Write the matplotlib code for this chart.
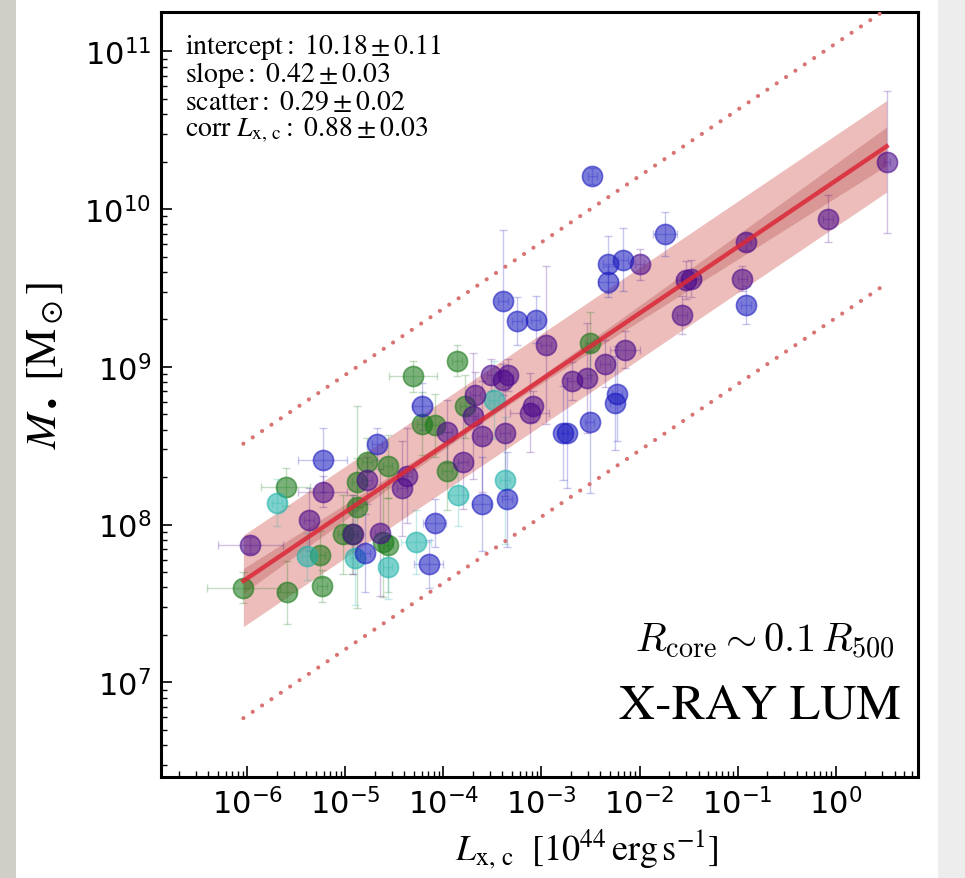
import numpy as np
import matplotlib
matplotlib.use('Agg')
import matplotlib.pyplot as plt
from matplotlib.patches import Rectangle

# log10 of core X-ray luminosity [1e44 erg/s] and black-hole mass [Msun], per sample
blue_lx = [-2.48, -1.74, -2.32, -2.17, -2.32, -0.91, -3.39, -3.25, -3.06, -2.23, -2.25,
           -2.51, -2.74, -2.78, -4.22, -4.68, -5.23, -3.61, -3.35, -4.09, -4.80, -4.15]
blue_lm = [10.21, 9.84, 9.65, 9.68, 9.54, 9.39, 9.42, 9.29, 9.30, 8.83, 8.77,
           8.65, 8.58, 8.58, 8.75, 8.51, 8.41, 8.13, 8.16, 8.01, 7.82, 7.75]
blue_xe = [0.05, 0.12, 0.05, 0.05, 0.10, 0.05, 0.05, 0.05, 0.05, 0.05, 0.05,
           0.05, 0.05, 0.05, 0.10, 0.05, 0.25, 0.10, 0.05, 0.12, 0.05, 0.15]
blue_me = [0.05, 0.14, 0.18, 0.20, 0.10, 0.12, 0.45, 0.15, 0.15, 0.30, 0.30,
           0.45, 0.35, 0.30, 0.15, 0.10, 0.20, 0.30, 0.30, 0.15, 0.25, 0.15]

purple_lx = [0.52, -0.08, -0.91, -0.95, -2.00, -1.47, -1.53, -1.57, -2.95, -2.15, -2.35,
             -2.69, -2.54, -3.51, -3.39, -3.34, -3.68, -3.70, -3.96, -3.61, -3.37, -3.12,
             -3.09, -3.80, -4.37, -4.42, -4.78, -5.23, -5.37, -4.92, -4.65, -5.97]
purple_lm = [10.30, 9.94, 9.79, 9.56, 9.65, 9.56, 9.55, 9.33, 9.14, 9.11, 9.02,
             8.91, 8.93, 8.95, 8.92, 8.95, 8.82, 8.69, 8.59, 8.56, 8.58, 8.71,
             8.75, 8.40, 8.31, 8.23, 8.28, 8.21, 8.03, 7.94, 7.95, 7.87]
purple_xe = [0.03, 0.05, 0.05, 0.05, 0.05, 0.10, 0.10, 0.05, 0.05, 0.15, 0.05,
             0.05, 0.05, 0.05, 0.10, 0.05, 0.05, 0.05, 0.05, 0.05, 0.05, 0.20,
             0.05, 0.05, 0.05, 0.05, 0.05, 0.25, 0.05, 0.05, 0.05, 0.33]
purple_me = [0.45, 0.15, 0.05, 0.08, 0.10, 0.12, 0.12, 0.12, 0.50, 0.12, 0.15,
             0.12, 0.35, 0.10, 0.10, 0.10, 0.15, 0.40, 0.20, 0.35, 0.40, 0.25,
             0.10, 0.30, 0.30, 0.30, 0.15, 0.10, 0.20, 0.25, 0.40, 0.05]

green_lx = [-3.86, -4.31, -2.51, -3.78, -4.22, -4.09, -3.96, -4.78, -4.57, -4.88,
            -4.88, -5.02, -4.93, -5.61, -6.04, -5.60, -5.24, -5.26, -4.62, -4.56]
green_lm = [9.04, 8.94, 9.15, 8.75, 8.64, 8.63, 8.34, 8.40, 8.37, 8.27,
            8.11, 7.94, 7.94, 8.24, 7.60, 7.57, 7.61, 7.81, 7.89, 7.87]
green_xe = [0.05, 0.24, 0.05, 0.05, 0.05, 0.05, 0.05, 0.05, 0.05, 0.05,
            0.05, 0.05, 0.05, 0.25, 0.37, 0.10, 0.05, 0.05, 0.05, 0.05]
green_me = [0.10, 0.10, 0.20, 0.20, 0.20, 0.20, 0.25, 0.15, 0.20, 0.15,
            0.64, 0.25, 0.25, 0.12, 0.10, 0.20, 0.10, 0.15, 0.35, 0.30]

cyan_lx = [-5.70, -3.37, -3.85, -4.28, -4.57, -4.90, -5.39, -3.48]
cyan_lm = [8.14, 8.28, 8.19, 7.89, 7.73, 7.79, 7.80, 8.79]
cyan_xe = [0.05, 0.05, 0.10, 0.15, 0.05, 0.05, 0.05, 0.05]
cyan_me = [0.15, 0.40, 0.20, 0.20, 0.20, 0.30, 0.15, 0.25]

# fit results
intercept, intercept_err = 10.18, 0.11
slope, slope_err = 0.42, 0.03
scatter, scatter_err = 0.29, 0.02
corr, corr_err = 0.88, 0.03
pivot = -3.5

plt.rcParams['font.family'] = 'DejaVu Sans'
plt.rcParams['mathtext.fontset'] = 'dejavusans'

fig = plt.figure(figsize=(9.65, 8.79), dpi=100)
fig.patch.set_facecolor('white')
# grey page edges around the panel
fig.patches.append(Rectangle((0, 0), 16 / 965, 1, transform=fig.transFigure,
                             facecolor='#cfcfc8', edgecolor='none', zorder=-5))
fig.patches.append(Rectangle((938 / 965, 0), 27 / 965, 1, transform=fig.transFigure,
                             facecolor='#ededed', edgecolor='none', zorder=-5))

ax = fig.add_axes([161 / 965, 101 / 879, 757 / 965, 765 / 879])
ax.set_xscale('log')
ax.set_yscale('log')


def draw_group(lx, lm, xe, me, color):
    lx = np.array(lx)
    lm = np.array(lm)
    xe = np.array(xe)
    me = np.array(me)
    x = 10 ** lx
    y = 10 ** lm
    xerr = [x - 10 ** (lx - xe), 10 ** (lx + xe) - x]
    yerr = [y - 10 ** (lm - me), 10 ** (lm + me) - y]
    ax.errorbar(x, y, xerr=xerr, yerr=yerr, fmt='none', ecolor=color,
                elinewidth=1.0, capsize=3, alpha=0.25, zorder=3)
    ax.plot(x, y, 'o', ms=14.5, mfc=color, mec=color, mew=1.2,
            alpha=0.58, zorder=4)


draw_group(green_lx, green_lm, green_xe, green_me, '#1a7a1a')
draw_group(cyan_lx, cyan_lm, cyan_xe, cyan_me, '#20b2aa')
draw_group(purple_lx, purple_lm, purple_xe, purple_me, '#4b0a8c')
draw_group(blue_lx, blue_lm, blue_xe, blue_me, '#1c1cc0')

# best-fit relation with intrinsic scatter band, fit uncertainty and 3-sigma lines
all_lx = np.concatenate([blue_lx, purple_lx, green_lx, cyan_lx])
lgrid = np.linspace(all_lx.min(), all_lx.max(), 200)
lfit = intercept + slope * lgrid
fit_hw = np.sqrt(0.02 ** 2 + (slope_err * (lgrid - pivot)) ** 2)
xg = 10 ** lgrid
ax.fill_between(xg, 10 ** (lfit - scatter), 10 ** (lfit + scatter),
                color='#d2625c', alpha=0.42, lw=0, zorder=2)
ax.fill_between(xg, 10 ** (lfit - fit_hw), 10 ** (lfit + fit_hw),
                color='#b04040', alpha=0.3, lw=0, zorder=2)
ax.plot(xg, 10 ** lfit, color='#dc2838', lw=3.2, alpha=0.85, zorder=6)
for sgn in (1, -1):
    ax.plot(xg, 10 ** (lfit + sgn * 3 * scatter), color='#d87474', lw=3.0,
            ls=(0, (0.01, 2.7)), dash_capstyle='round', zorder=5)

ax.set_xlim(10 ** -6.88, 10 ** 0.84)
ax.set_ylim(10 ** 6.4, 10 ** 11.25)

ax.tick_params(which='both', direction='in', top=False, right=False)
ax.tick_params(which='major', length=8, width=1.2, labelsize=22, pad=7)
ax.tick_params(which='minor', length=4, width=1.0)
ax.xaxis.set_major_locator(matplotlib.ticker.LogLocator(base=10, numticks=20))
ax.xaxis.set_minor_locator(matplotlib.ticker.LogLocator(base=10, subs=np.arange(2, 10), numticks=20))
ax.xaxis.set_minor_formatter(matplotlib.ticker.NullFormatter())
ax.set_xticks([10.0 ** k for k in range(-6, 1)])
for sp in ax.spines.values():
    sp.set_linewidth(2.2)

ax.set_xlabel(r'$L_{\rm x,\,c}\ \ [10^{44}\,{\rm erg\,s^{-1}}]$', fontsize=26,
              math_fontfamily='stix')
ax.xaxis.set_label_coords(0.563, -0.064)
ax.set_ylabel(r'$M_\bullet\ [{\rm M}_\odot]$', fontsize=31, math_fontfamily='stix')
ax.yaxis.set_label_coords(-0.125, 0.54)

stats = [
    r'$\mathrm{intercept}:\ %.2f \pm %.2f$' % (intercept, intercept_err),
    r'$\mathrm{slope}:\ %.2f \pm %.2f$' % (slope, slope_err),
    r'$\mathrm{scatter}:\ %.2f \pm %.2f$' % (scatter, scatter_err),
    r'$\mathrm{corr}\ L_{\rm x,\,c}:\ %.2f \pm %.2f$' % (corr, corr_err),
]
for i, s in enumerate(stats):
    ax.text(0.032, 0.975 - i * 0.0365, s, transform=ax.transAxes, fontsize=20,
            va='top', ha='left', math_fontfamily='stix')

ax.text(0.97, 0.165, r'$R_{\rm core} \sim 0.1\,R_{500}$', transform=ax.transAxes,
        fontsize=29, ha='right', va='baseline', math_fontfamily='cm')
ax.text(0.977, 0.078, 'X-RAY LUM', transform=ax.transAxes, fontsize=36,
        ha='right', va='baseline', family='STIXGeneral')

fig.savefig('out.png', dpi=100, facecolor=fig.get_facecolor())
